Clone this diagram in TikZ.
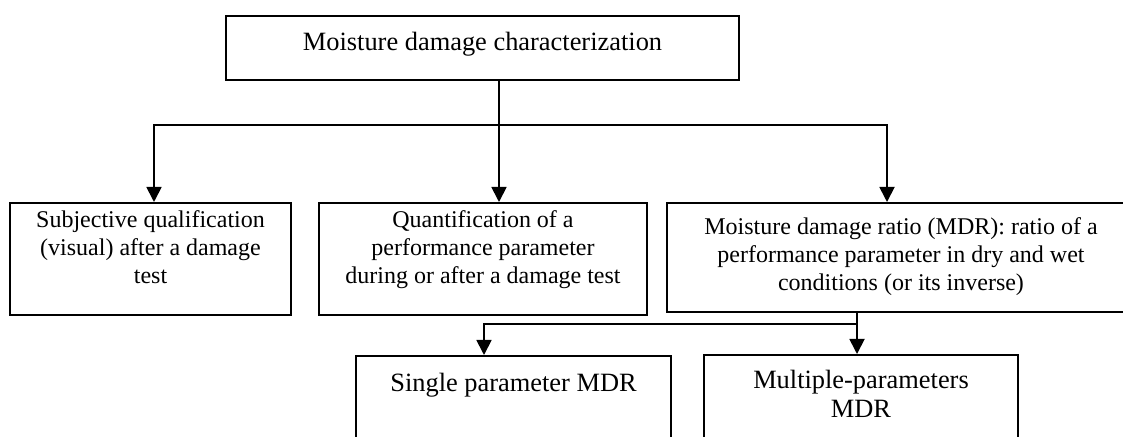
\documentclass[tikz,border=0pt]{standalone}
\usepackage{fontspec}
\setmainfont{Liberation Serif}
\usetikzlibrary{arrows.meta}
\tikzset{
  box/.style={draw, line width=0.9pt, align=center, anchor=north, inner sep=0pt},
  small/.style={font=\fontsize{12}{14}\selectfont},
  big/.style={font=\fontsize{13.2}{14.5}\selectfont},
}
\begin{document}
\begin{tikzpicture}[x=0.5pt,y=-0.5pt,>={Triangle[width=7.5pt,length=7.5pt]},line width=0.9pt]
   \useasboundingbox (0,0) rectangle (1123,437);
   \clip (0,0) rectangle (1123,437);

   % 上段
   \node[box,big,minimum width=256.5pt,text height=17.5pt,text depth=14.5pt] (char) at (482.5,15) {Moisture damage characterization};

   % 中段
   \node[box,small,minimum width=140.5pt,text height=40.5pt,text depth=15.5pt] (subj) at (150.5,202) {Subjective qualification\\(visual) after a damage\\test};
   \node[box,small,minimum width=164pt,text height=40.5pt,text depth=15.5pt] (quant) at (483,202) {Quantification of a\\performance parameter\\during or after a damage test};
   \node[box,small,minimum width=234pt,text height=44pt,text depth=10.5pt] (mdr) at (901,202) {Moisture damage ratio (MDR): ratio of a\\performance parameter in dry and wet\\conditions (or its inverse)};

   % 下段
   \node[box,big,minimum width=157.5pt,text height=18pt,text depth=44.5pt] (single) at (513.5,355) {Single parameter MDR};
   \node[box,big,minimum width=157pt,text height=31.5pt,text depth=31.5pt] (multi) at (861,354) {Multiple-parameters\\MDR};

   % 矢印
   \coordinate (fork) at (499,125);
   \coordinate (fl) at (154,125);
   \coordinate (fr) at (887,125);
   \draw[->] (char.south -| fork) -- (quant.north -| fork);
   \draw[<->] (subj.north -| fl) -- (fl) -- (fr) -- (mdr.north -| fr);

   \coordinate (gl) at (484,324);
   \coordinate (gr) at (857,324);
   \draw (mdr.south -| gr) -- (gr);
   \draw[<->] (single.north -| gl) -- (gl) -- (gr) -- (multi.north -| gr);
\end{tikzpicture}
\end{document}
